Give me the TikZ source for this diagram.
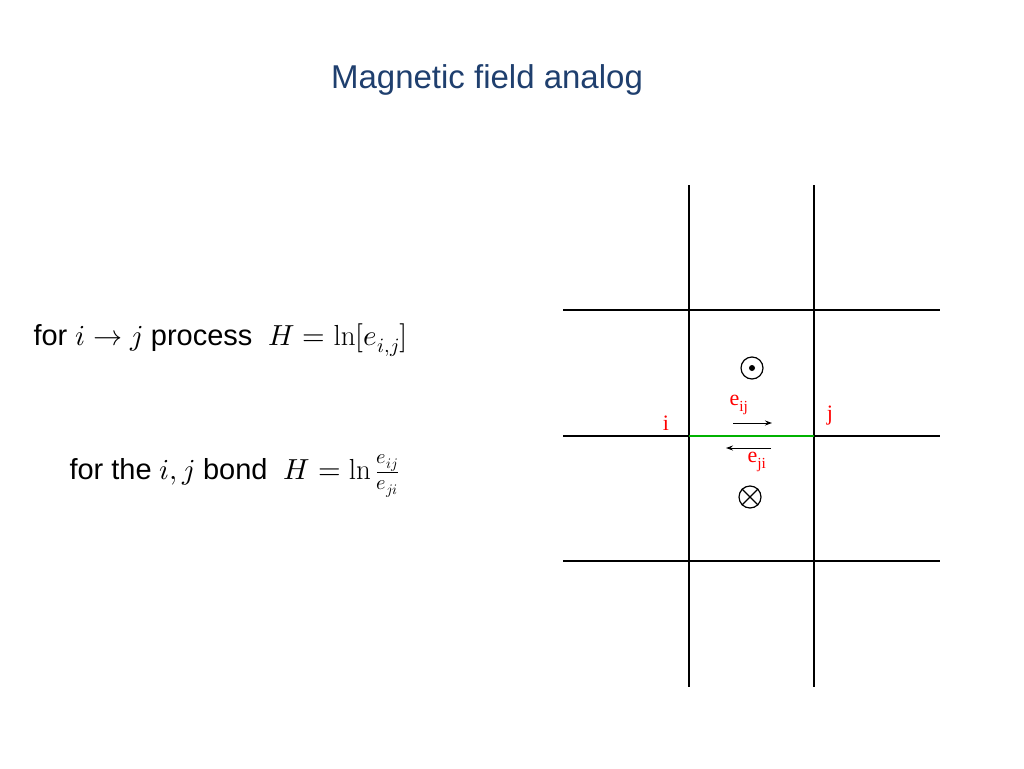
\documentclass[tikz,border=0pt]{standalone}
\usepackage{fontspec}
\usepackage{unicode-math}
\setmainfont{Liberation Sans}
\setmathfont{Latin Modern Math}
\setmathrm{Latin Modern Roman}
\newfontfamily\serifred{Liberation Serif}
\usetikzlibrary{arrows.meta}
\definecolor{titleblue}{HTML}{1F3F6E}
\begin{document}
\begin{tikzpicture}[x=1pt,y=-1pt,
  grid/.style={line width=1.6pt,black},
  lab/.style={text=red,font=\fontsize{22}{24}\selectfont\serifred,inner sep=0},
  arr/.style={-{Stealth[length=7pt,width=5pt]},line width=1pt}]
\useasboundingbox (0,0) rectangle (1024,768);
\node[text=titleblue,font=\fontsize{33}{36}\selectfont] (title) at (487,80) {Magnetic field analog};
\node[anchor=west,font=\fontsize{29}{33}\selectfont] (t1) at (30,340) {for $i\rightarrow j$ process\ \ $H=\ln[e_{i,j}]$};
\node[anchor=west,font=\fontsize{29}{33}\selectfont] (t2) at (66,476) {for the $i,j$ bond\ \ $H=\ln\frac{e_{ij}}{e_{ji}}$};
\coordinate (v1t) at (689,185); \coordinate (v1b) at (689,687);
\coordinate (v2t) at (814,185); \coordinate (v2b) at (814,687);
\coordinate (h1l) at (563,310); \coordinate (h1r) at (940,310);
\coordinate (h2l) at (563,436); \coordinate (h2r) at (940,436);
\coordinate (h3l) at (563,561); \coordinate (h3r) at (940,561);
\draw[grid] (v1t)--(v1b); \draw[grid] (v2t)--(v2b);
\draw[grid] (h1l)--(h1r); \draw[grid] (h2l)--(h2r); \draw[grid] (h3l)--(h3r);
\coordinate (gi) at (689,436); \coordinate (gj) at (814,436);
\draw[line width=2pt,green!70!black] (gi)--(gj);
\node[draw,circle,line width=1.2pt,minimum size=22pt,inner sep=0] (dot) at (752,368) {};
\fill (dot.center) circle (3pt);
\node[draw,circle,line width=1.2pt,minimum size=22pt,inner sep=0] (ot) at (750,497) {};
\draw[line width=1.2pt] (ot.north west)--(ot.south east) (ot.north east)--(ot.south west);
\node[lab] (i) at (666,423) {i};
\node[lab] (j) at (830,416) {j};
\node[lab] (eij) at (739,405) {e\textsubscript{ij}};
\node[lab] (eji) at (757,462) {e\textsubscript{ji}};
\coordinate (a1s) at (733,423); \coordinate (a1e) at (772,423);
\coordinate (a2s) at (771,448); \coordinate (a2e) at (726,448);
\draw[arr] (a1s)--(a1e);
\draw[arr] (a2s)--(a2e);
\end{tikzpicture}
\end{document}
